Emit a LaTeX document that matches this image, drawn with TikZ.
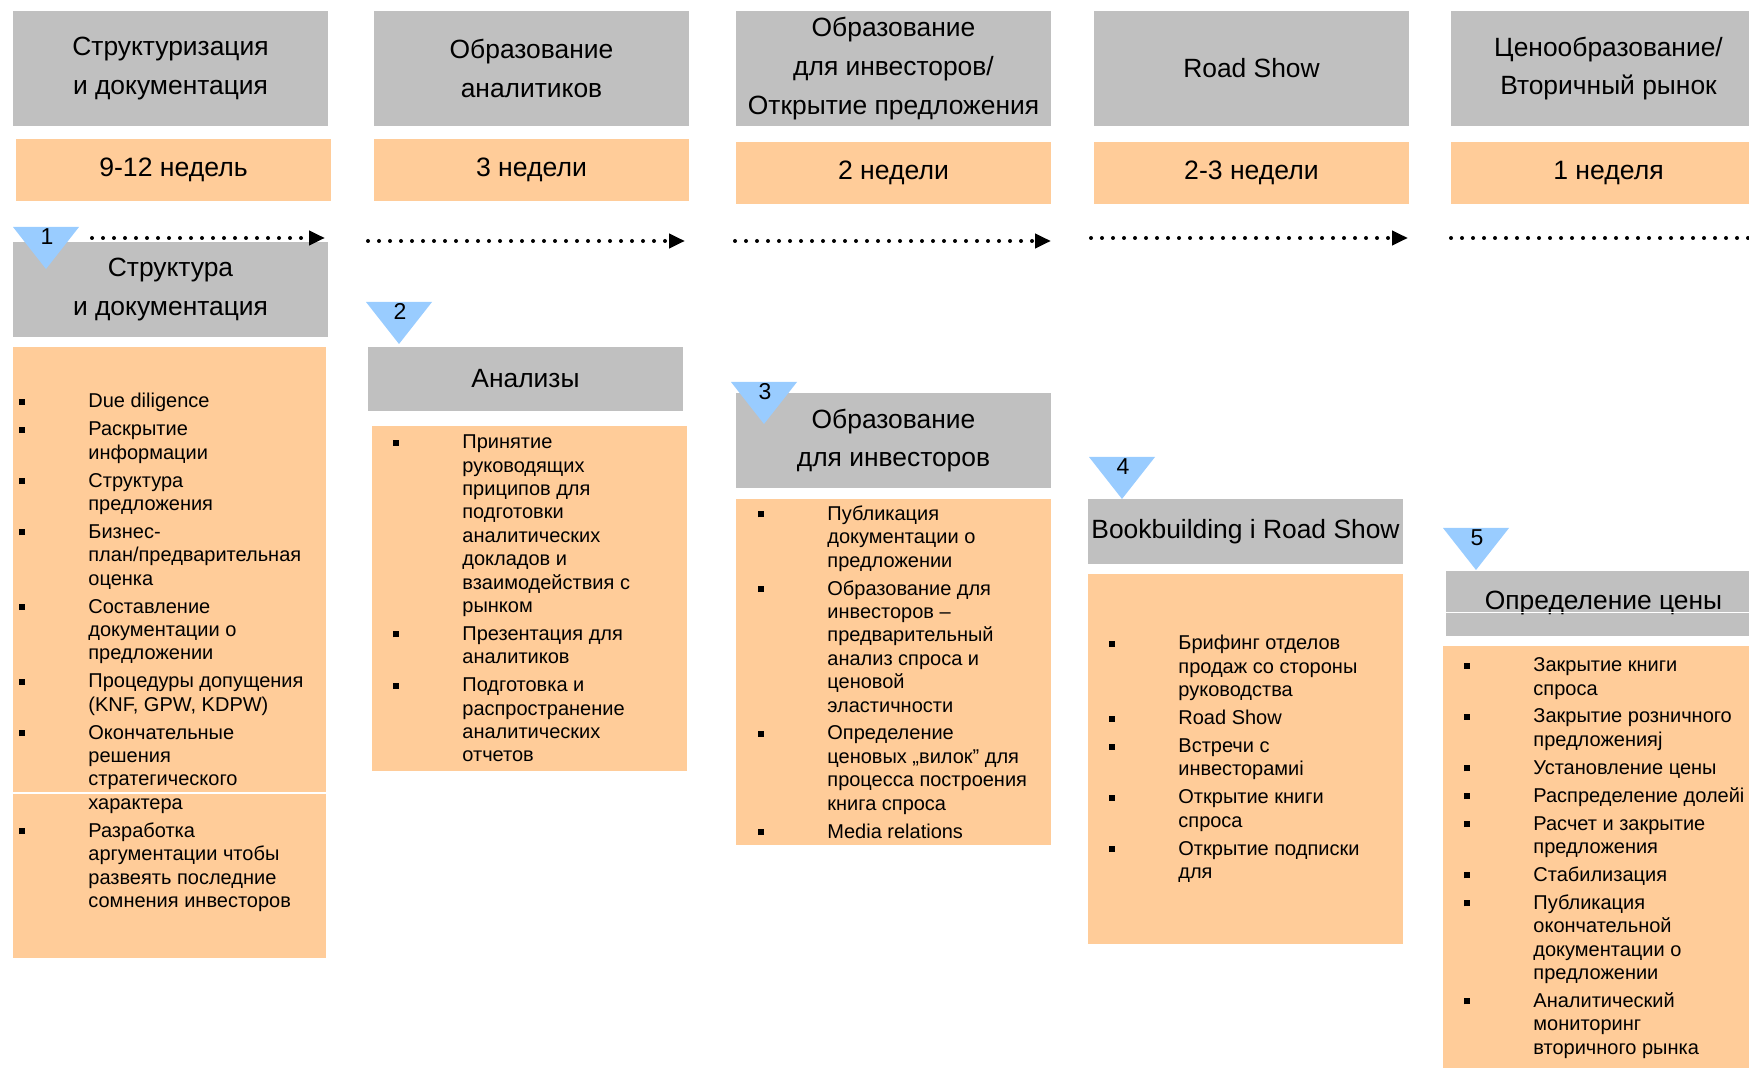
\documentclass[tikz,border=0pt]{standalone}
\usepackage{fontspec}
\setmainfont{Liberation Sans}
\usetikzlibrary{arrows.meta}
\definecolor{boxgray}{HTML}{C0C0C0}
\definecolor{boxorange}{HTML}{FFCC99}
\definecolor{markblue}{HTML}{99CCFF}
\newcommand{\blt}{\makebox[34.5pt][l]{\rule[1.5pt]{3pt}{3pt}}}
\newcommand{\ind}{\makebox[34.5pt]{}}
\tikzset{
    phase-box/.style = {fill=boxgray, inner sep=0pt, minimum width=157.5pt, align=center, font=\fontsize{13.2}{19.4}\selectfont},
    weeks-box/.style = {fill=boxorange, inner sep=0pt, minimum width=157.5pt, minimum height=31pt, font=\fontsize{13.3}{16}\selectfont},
    list-box/.style = {fill=boxorange, inner sep=0pt, minimum width=157.5pt},
    list-text/.style = {anchor=west, align=left, inner sep=0pt, font=\fontsize{10}{11.7}\selectfont},
    time-arrow/.style = {line width=2pt, dash pattern=on 0pt off 5.5pt, line cap=round, -{Triangle[length=8pt, width=7pt]}},
    marker-tri/.style = {fill=markblue},
    marker-num/.style = {anchor=north, inner sep=0pt, font=\fontsize{11.5}{12}\selectfont},
}

\begin{document}
\begin{tikzpicture}[x=0.5pt, y=-0.5pt]
\useasboundingbox (0,0) rectangle (1749,1068);
\clip (0,0) rectangle (1749,1068);

\node[phase-box, minimum height=57.5pt] (head1) at (170.5,68.5) {Структуризация\\и документация};
\node[phase-box, minimum height=57.5pt] (head2) at (531.5,68.5) {Образование\\аналитиков};
\node[phase-box, minimum height=57.5pt] (head3) at (893.5,68.5) {Образование\\для инвесторов/\\Открытие предложения};
\node[phase-box, minimum height=57.5pt] (head4) at (1251.5,68.5) {Road Show};
\node[phase-box, minimum height=57.5pt] (head5) at (1608.5,68.5) {Ценообразование/\\Вторичный рынок};

\node[weeks-box] (weeks1) at (173.5,170) {9-12 недель};
\node[weeks-box] (weeks2) at (531.5,170) {3 недели};
\node[weeks-box] (weeks3) at (893.5,173) {2 недели};
\node[weeks-box] (weeks4) at (1251.5,173) {2-3 недели};
\node[weeks-box] (weeks5) at (1608.5,173) {1 неделя};

\node[phase-box, minimum height=47.5pt] (stage1) at (170.5,289.5) {Структура\\и документация};
\node[phase-box, minimum height=32pt] (stage2) at (525.5,379) {Анализы};
\node[phase-box, minimum height=47.5pt] (stage3) at (893.5,440.5) {Образование\\для инвесторов};
\node[phase-box, minimum height=32.5pt] (stage4) at (1245.5,531.5) {Bookbuilding i Road Show};
\node[phase-box, minimum height=32.5pt] (stage5) at (1603.5,603.5) {Определение цены};
\draw[white, line width=0.6pt] (stage5.west) ++(0,9) -- ++(320,0);

\node[list-box, minimum width=156.5pt, minimum height=305.5pt] (list1) at (169.5,652.5) {};
\node[list-box, minimum height=172.5pt] (list2) at (529.5,598.5) {};
\node[list-box, minimum height=173pt] (list3) at (893.5,672) {};
\node[list-box, minimum height=185pt] (list4) at (1245.5,759) {};
\node[list-box, minimum height=214.5pt] (list5) at (1600.5,860.5) {};
\draw[white, line width=0.6pt] (list1.west) ++(0,140.5) -- ++(313,0);

\node[list-text] (items1) at (19,652.5) {\blt Due diligence\\[2.25pt]%
\blt Раскрытие\\\ind информации\\[2.25pt]%
\blt Структура\\\ind предложения\\[2.25pt]%
\blt Бизнес-\\\ind план/предварительная\\\ind оценка\\[2.25pt]%
\blt Составление\\\ind документации о\\\ind предложении\\[2.25pt]%
\blt Процедуры допущения\\\ind (KNF, GPW, KDPW)\\[2.25pt]%
\blt Окончательные\\\ind решения\\\ind стратегического\\\ind характера\\[2.25pt]%
\blt Разработка\\\ind аргументации чтобы\\\ind развеять последние\\\ind сомнения инвесторов};

\node[list-text] (items2) at (393,598.5) {\blt Принятие\\\ind руководящих\\\ind приципов для\\\ind подготовки\\\ind аналитических\\\ind докладов и\\\ind взаимодействия с\\\ind рынком\\[2.25pt]%
\blt Презентация для\\\ind аналитиков\\[2.25pt]%
\blt Подготовка и\\\ind распространение\\\ind аналитических\\\ind отчетов};

\node[list-text] (items3) at (758,672) {\blt Публикация\\\ind документации о\\\ind предложении\\[2.25pt]%
\blt Образование для\\\ind инвесторов –\\\ind предварительный\\\ind анализ спроса и\\\ind ценовой\\\ind эластичности\\[2.25pt]%
\blt Определение\\\ind ценовых „вилок” для\\\ind процесса построения\\\ind книга спроса\\[2.25pt]%
\blt Media relations};

\node[list-text] (items4) at (1109,759) {\blt Брифинг отделов\\\ind продаж со стороны\\\ind руководства\\[2.25pt]%
\blt Road Show\\[2.25pt]%
\blt Встречи с\\\ind инвесторамиi\\[2.25pt]%
\blt Открытие книги\\\ind спроса\\[2.25pt]%
\blt Открытие подписки\\\ind для};

\node[list-text] (items5) at (1464,858) {\blt Закрытие книги\\\ind спроса\\[2.25pt]%
\blt Закрытие розничного\\\ind предложенияj\\[2.25pt]%
\blt Установление цены\\[2.25pt]%
\blt Распределение долейi\\[2.25pt]%
\blt Расчет и закрытие\\\ind предложения\\[2.25pt]%
\blt Стабилизация\\[2.25pt]%
\blt Публикация\\\ind окончательной\\\ind документации о\\\ind предложении\\[2.25pt]%
\blt Аналитический\\\ind мониторинг\\\ind вторичного рынка};

\foreach \tx/\ty/\num in {13/227/1, 366/302/2, 731/382/3, 1089/457/4, 1443/528/5} {
    \fill[marker-tri] (\tx,\ty) -- ++(66,0) -- ++(-33,42) -- cycle;
    \node[marker-num] (mark\num) at (\tx+34,\ty+1) {\num};
}

\coordinate (go1) at (92,238);   \coordinate (end1) at (325,238);
\coordinate (go2) at (368,241);  \coordinate (end2) at (685,241);
\coordinate (go3) at (735,241);  \coordinate (end3) at (1051,241);
\coordinate (go4) at (1091,238); \coordinate (end4) at (1408,238);
\coordinate (go5) at (1451,238); \coordinate (end5) at (1790,238);
\foreach \i in {1,...,5} {
    \draw[time-arrow] (go\i) -- (end\i);
}
\end{tikzpicture}
\end{document}
